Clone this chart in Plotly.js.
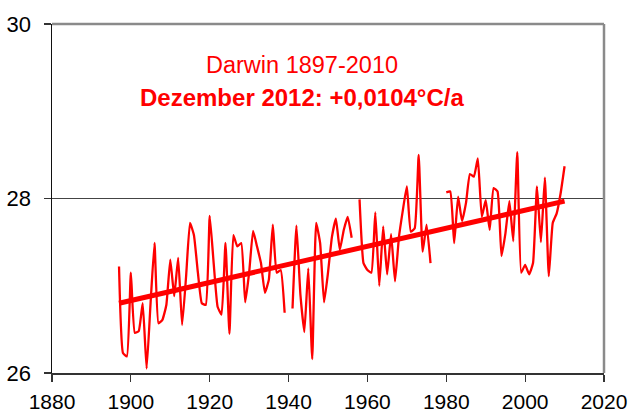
<!DOCTYPE html>
<html>
<head>
<meta charset="utf-8">
<script src="https://cdn.plot.ly/plotly-3.0.1.min.js"></script>
<style>
  html, body { margin: 0; padding: 0; background: #fff; }
  #chart { width: 631px; height: 415px; }
</style>
</head>
<body>
<div id="chart"></div>
<script>
// Darwin, annual mean temperature (°C).
// null = year missing in the record (gaps in the line).
const years = [
  1897, 1898, 1899, 1900, 1901, 1902, 1903, 1904, 1905, 1906, 1907, 1908, 1909,
  1910, 1911, 1912, 1913, 1914, 1915, 1916, 1917, 1918, 1919,
  1920, 1921, 1922, 1923, 1924, 1925, 1926, 1927, 1928, 1929,
  1930, 1931, 1932, 1933, 1934, 1935, 1936, 1937, 1938, 1939,
  1940, 1941, 1942, 1943, 1944, 1945, 1946, 1947, 1948, 1949,
  1950, 1951, 1952, 1953, 1954, 1955, 1956, 1957, 1958, 1959,
  1960, 1961, 1962, 1963, 1964, 1965, 1966, 1967, 1968, 1969,
  1970, 1971, 1972, 1973, 1974, 1975, 1976, 1977, 1978, 1979,
  1980, 1981, 1982, 1983, 1984, 1985, 1986, 1987, 1988, 1989,
  1990, 1991, 1992, 1993, 1994, 1995, 1996, 1997, 1998, 1999,
  2000, 2001, 2002, 2003, 2004, 2005, 2006, 2007, 2008, 2009, 2010
];
const temps = [
  27.22, 26.23, 26.19, 27.15, 26.46, 26.48, 26.80, 26.05, 26.80, 27.49, 26.57, 26.61, 26.78,
  27.30, 26.88, 27.32, 26.55, 27.10, 27.72, 27.58, 27.15, 26.80, 26.78,
  27.80, 27.26, 26.76, 26.67, 27.49, 26.45, 27.58, 27.45, 27.49, 26.81,
  27.15, 27.63, 27.45, 27.26, 26.92, 27.07, 27.70, 27.15, 27.18, 26.69,
  null,  26.74, 27.69, 26.90, 26.47, 27.20, 26.16, 27.72, 27.49, 26.81,
  27.15, 27.56, 27.77, 27.41, 27.64, 27.79, 27.55, null,  27.99, 27.26,
  27.18, 27.15, 27.84, 27.00, 27.68, 27.13, 27.59, 27.05, 27.56, 27.87,
  28.14, 27.62, 27.66, 28.50, 27.39, 27.70, 27.26, null,  null,  null,
  28.07, 28.08, 27.49, 28.02, 27.74, 27.95, 28.28, 28.25, 28.46, 27.79,
  27.98, 27.64, 28.12, 28.08, 27.34, 27.60, 27.97, 27.51, 28.53, 27.15,
  27.24, 27.13, 27.26, 28.14, 27.50, 28.24, 27.11, 27.72, 27.83, 28.06, 28.37
];

// linear trend as drawn (+0.0104 °C per year)
const trendYears = [1897, 2010];
const trendTemps = [26.80, 27.97];

const xTicks = [1880, 1900, 1920, 1940, 1960, 1980, 2000, 2020];
const yTicks = [26, 28, 30];

const titleLine1 = 'Darwin 1897-2010';
const titleLine2 = 'Dezember 2012: +0,0104°C/a';

const RED = '#ff0000';
const FONT = 'Arial, "Liberation Sans", sans-serif';

const traces = [
  {
    type: 'scatter', mode: 'lines',
    x: years, y: temps,
    connectgaps: false,
    line: { color: RED, width: 2.3, shape: 'spline', smoothing: 0.4 },
    hoverinfo: 'x+y', showlegend: false
  },
  {
    type: 'scatter', mode: 'lines',
    x: trendYears, y: trendTemps,
    line: { color: RED, width: 5 },
    hoverinfo: 'skip', showlegend: false
  }
];

const layout = {
  width: 631, height: 415,
  paper_bgcolor: '#ffffff', plot_bgcolor: '#ffffff',
  font: { family: FONT, color: '#000', size: 22 },
  margin: { l: 52, r: 27, t: 24, b: 42, pad: 0 },
  showlegend: false,
  xaxis: {
    range: [1880, 2020], tickvals: xTicks, ticktext: xTicks.map(String),
    showgrid: false, zeroline: false,
    showline: true, linecolor: '#333', linewidth: 1.5,
    ticks: 'outside', ticklen: 7, tickwidth: 1.2, tickcolor: '#333',
    ticklabelstandoff: 2,
    tickfont: { family: FONT, size: 21, color: '#000' },
    automargin: false, fixedrange: true
  },
  yaxis: {
    range: [26, 30], tickvals: yTicks, ticktext: yTicks.map(String),
    showgrid: true, gridcolor: '#444', gridwidth: 1,
    zeroline: false,
    showline: true, linecolor: '#111', linewidth: 1.5,
    ticks: 'outside', ticklen: 7, tickwidth: 1.2, tickcolor: '#333',
    ticklabelstandoff: 8,
    tickfont: { family: FONT, size: 22, color: '#000' },
    automargin: false, fixedrange: true
  },
  shapes: [
    // grey frame on top and right of the plot area
    { type: 'line', xref: 'paper', yref: 'paper', x0: 0, x1: 1, y0: 1, y1: 1,
      line: { color: '#8a8a8a', width: 2.5 } },
    { type: 'line', xref: 'paper', yref: 'paper', x0: 1, x1: 1, y0: 0, y1: 1,
      line: { color: '#8a8a8a', width: 2.5 } }
  ],
  annotations: [
    { xref: 'paper', yref: 'paper', x: 0.453, y: 0.925, showarrow: false,
      text: titleLine1, font: { family: FONT, size: 23.5, color: RED } },
    { xref: 'paper', yref: 'paper', x: 0.453, y: 0.835, showarrow: false,
      text: '<b>' + titleLine2 + '</b>', font: { family: FONT, size: 24, color: RED } }
  ]
};

Plotly.newPlot('chart', traces, layout, { displayModeBar: false, staticPlot: true });
</script>
</body>
</html>
